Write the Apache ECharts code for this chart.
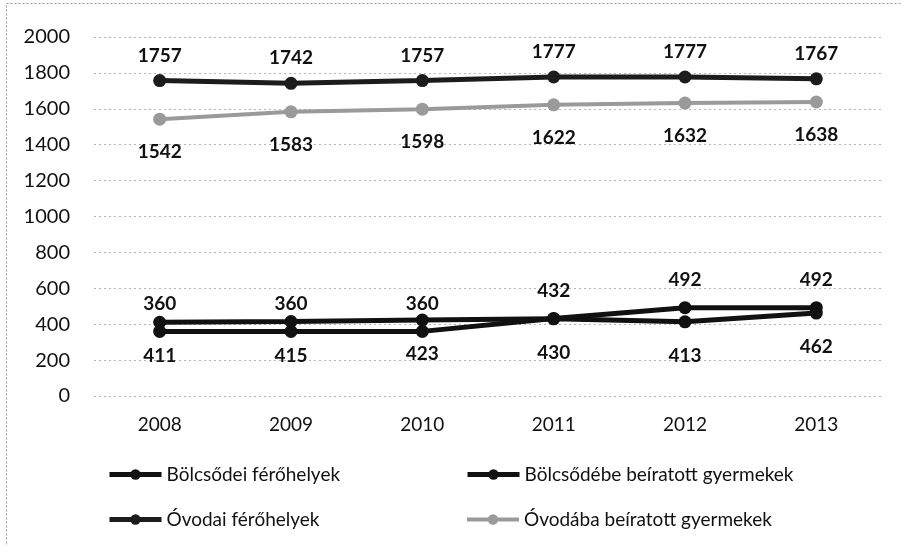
<!DOCTYPE html>
<html>
<head>
<meta charset="utf-8">
<script src="https://cdn.jsdelivr.net/npm/echarts@6/dist/echarts.min.js"></script>
<style>
  html, body { margin: 0; padding: 0; background: #fff; }
  #chart { width: 901px; height: 546px; }
</style>
</head>
<body>
<div id="chart"></div>
<script>
const years = ['2008', '2009', '2010', '2011', '2012', '2013']
const bolcsodeiFerohely = [360, 360, 360, 432, 492, 492]
const bolcsodebeBeiratott = [411, 415, 423, 430, 413, 462]
const ovodaiFerohely = [1757, 1742, 1757, 1777, 1777, 1767]
const ovodabaBeiratott = [1542, 1583, 1598, 1622, 1632, 1638]
const names = [
  'Bölcsődei férőhelyek',
  'Bölcsődébe beíratott gyermekek',
  'Óvodai férőhelyek',
  'Óvodába beíratott gyermekek'
]

const FONT = 'Lato'
const chart = echarts.init(document.getElementById('chart'), null, { renderer: 'canvas' })

const mkSeries = (name, data, color, width, pos, dist, z) => ({
  name: name,
  type: 'line',
  data: data,
  symbol: 'circle',
  symbolSize: 13,
  z: z,
  lineStyle: { color: color, width: width },
  itemStyle: { color: color },
  label: {
    show: true,
    position: pos,
    distance: dist,
    color: '#111',
    fontFamily: FONT,
    fontWeight: 'bold',
    fontSize: 19
  }
})

const mkLegend = (name, left, top, w) => ({
  data: [name],
  left: left,
  top: top,
  padding: 0,
  itemWidth: 52,
  itemHeight: 13,
  lineStyle: { width: w },
  textStyle: { fontFamily: FONT, fontSize: 19, color: '#111' }
})

const option = {
  animation: false,
  backgroundColor: '#fff',
  grid: { left: 94, right: 19, top: 37, bottom: 150 },
  xAxis: {
    type: 'category',
    data: years,
    axisLine: { show: false },
    axisTick: { show: false },
    axisLabel: { margin: 19, fontFamily: FONT, fontSize: 19, color: '#111' }
  },
  yAxis: {
    type: 'value',
    min: 0,
    max: 2000,
    interval: 200,
    axisLine: { show: false },
    axisTick: { show: false },
    axisLabel: {
      margin: 24, fontFamily: FONT, fontSize: 20, color: '#111',
      formatter: v => String(v)
    },
    splitLine: { lineStyle: { color: '#b5b5b5', type: [2, 3], width: 1 } }
  },
  legend: [
    mkLegend(names[0], 107, 465, 5),
    mkLegend(names[1], 465, 465, 5),
    mkLegend(names[2], 107, 510, 5),
    mkLegend(names[3], 465, 510, 4)
  ],
  graphic: [{
    type: 'rect',
    shape: { x: 6.5, y: 3.5, width: 900, height: 560 },
    style: { fill: 'none', stroke: '#999', lineWidth: 1, lineDash: [2, 2] },
    silent: true
  }],
  series: [
    mkSeries(names[0], bolcsodeiFerohely, '#111', 5, 'top', 12, 4),
    mkSeries(names[1], bolcsodebeBeiratott, '#111', 5, 'bottom', 18, 3),
    mkSeries(names[2], ovodaiFerohely, '#1c1c1c', 5, 'top', 9, 2),
    mkSeries(names[3], ovodabaBeiratott, '#9a9a9a', 4, 'bottom', 17, 1)
  ]
}

chart.setOption(option)
</script>
</body>
</html>
